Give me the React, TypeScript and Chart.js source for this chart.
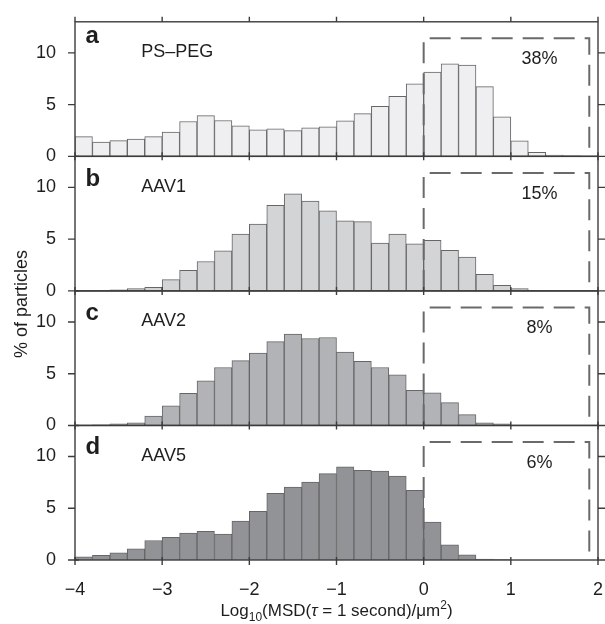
import React, { useEffect, useRef } from "react";
import { Chart, registerables } from "chart.js";

Chart.register(...registerables);

// ---- data ----
const binStart = -4;
const binWidth = 0.2;
const xTicks = [-4, -3, -2, -1, 0, 1, 2];
const yTicks = [0, 5, 10];
const panelLetters = ["a", "b", "c", "d"];
const sampleNames = ["PS\u2013PEG", "AAV1", "AAV2", "AAV5"];
const fastFractions = ["38%", "15%", "8%", "6%"];

const psPeg = [1.9, 1.37, 1.52, 1.68, 1.9, 2.35, 3.37, 3.94, 3.46, 2.95, 2.57, 2.67, 2.48, 2.75, 2.86, 3.43, 4.13, 4.83, 5.8, 7.0, 8.13, 8.95, 8.83, 6.73, 3.81, 1.49, 0.38, 0.13, 0.04, 0];
const aav1 = [0.02, 0.05, 0.1, 0.22, 0.35, 1.09, 1.98, 2.84, 3.87, 5.5, 6.45, 8.27, 9.39, 8.68, 7.73, 6.77, 6.69, 4.63, 5.5, 4.54, 4.89, 3.93, 3.26, 1.6, 0.54, 0.22, 0.02, 0, 0, 0];
const aav2 = [0.03, 0.06, 0.15, 0.25, 0.9, 1.9, 3.1, 4.3, 5.6, 6.27, 7.0, 8.1, 8.83, 8.4, 8.5, 7.1, 6.2, 5.6, 4.9, 3.4, 3.15, 2.2, 1.04, 0.26, 0.16, 0.02, 0, 0, 0, 0];
const aav5 = [0.3, 0.45, 0.7, 1.07, 1.88, 2.2, 2.6, 2.76, 2.5, 3.77, 4.7, 6.43, 7.05, 7.53, 8.34, 9.0, 8.67, 8.6, 8.1, 6.72, 3.67, 1.46, 0.49, 0.1, 0.04, 0, 0, 0, 0, 0];
const seriesList = [psPeg, aav1, aav2, aav5];

// dashed "fast particle" region (x from 0 to boxRight, y up to boxTop)
const boxLeft = 0;
const boxRight = 1.9;
const boxTop = 11.4;

// ---- style ----
const FONT = '"Liberation Sans", Arial, Helvetica, sans-serif';
const barFills = ["#efeff1", "#d3d4d6", "#b2b3b6", "#929396"];
const barStroke = "#666666";
const frameColor = "#3c3c3c";
const textColor = "#1e1e1e";
const letterY = [11.0, 10.1, 10.15, 10.2];
const nameX = -3.24;
const nameY = 9.6;
const letterX = -3.88;
const pctX = 1.33;
const pctY = 8.9;

const axisIds = ["y0", "y1", "y2", "y3"];

const fmtTick = (v: number) => (v < 0 ? "\u2212" + Math.abs(v) : String(v));

const framePlugin = {
  id: "panelFrame",
  afterDatasetsDraw(chart: any) {
    const ctx = chart.ctx as CanvasRenderingContext2D;
    const xs = chart.scales.x;
    const L = xs.left;
    const R = xs.right;
    axisIds.forEach((id, k) => {
      const ys = chart.scales[id];
      const T = ys.top;
      const B = ys.bottom;
      // dashed box
      ctx.save();
      ctx.strokeStyle = "#6a6a6a";
      ctx.lineWidth = 2;
      ctx.setLineDash([21, 10]);
      ctx.beginPath();
      ctx.moveTo(xs.getPixelForValue(boxLeft), ys.getPixelForValue(0));
      ctx.lineTo(xs.getPixelForValue(boxLeft), ys.getPixelForValue(boxTop));
      ctx.lineTo(xs.getPixelForValue(boxRight), ys.getPixelForValue(boxTop));
      ctx.lineTo(xs.getPixelForValue(boxRight), ys.getPixelForValue(0));
      ctx.stroke();
      ctx.restore();

      // frame
      ctx.save();
      ctx.strokeStyle = frameColor;
      ctx.lineWidth = 1.4;
      ctx.strokeRect(L, T, R - L, B - T);
      ctx.beginPath();
      yTicks.forEach((v) => {
        const py = ys.getPixelForValue(v);
        ctx.moveTo(L - 7, py);
        ctx.lineTo(L + (v === 0 ? 4 : 0), py);
        ctx.moveTo(R, py);
        ctx.lineTo(R + 7, py);
      });
      xTicks.forEach((v) => {
        const px = xs.getPixelForValue(v);
        if (k === 0) {
          ctx.moveTo(px, T - 5);
          ctx.lineTo(px, T);
        }
        if (k === axisIds.length - 1) {
          ctx.moveTo(px, B - 3);
          ctx.lineTo(px, B + 5);
        } else {
          ctx.moveTo(px, B - 4);
          ctx.lineTo(px, B + 4);
        }
      });
      ctx.stroke();
      ctx.restore();

      // texts
      ctx.save();
      ctx.fillStyle = textColor;
      ctx.textBaseline = "alphabetic";
      ctx.textAlign = "left";
      ctx.font = `bold 24px ${FONT}`;
      ctx.fillText(panelLetters[k], xs.getPixelForValue(letterX), ys.getPixelForValue(letterY[k]));
      ctx.font = `18px ${FONT}`;
      ctx.fillText(sampleNames[k], xs.getPixelForValue(nameX), ys.getPixelForValue(nameY));
      ctx.textAlign = "center";
      ctx.fillText(fastFractions[k], xs.getPixelForValue(pctX), ys.getPixelForValue(pctY));
      ctx.restore();
    });
  },
  afterDraw(chart: any) {
    const ctx = chart.ctx as CanvasRenderingContext2D;
    const xs = chart.scales.x;
    ctx.save();
    ctx.fillStyle = textColor;
    ctx.save();
    ctx.translate(22, 304);
    ctx.rotate(-Math.PI / 2);
    ctx.font = `18px ${FONT}`;
    ctx.textAlign = "center";
    ctx.textBaseline = "middle";
    ctx.fillText("% of particles", 0, 0);
    ctx.restore();

    const parts: { t: string; font: string; dy: number }[] = [
      { t: "Log", font: `17px ${FONT}`, dy: 0 },
      { t: "10", font: `12px ${FONT}`, dy: 5 },
      { t: "(MSD(", font: `17px ${FONT}`, dy: 0 },
      { t: "\u03C4", font: `italic 17px ${FONT}`, dy: 0 },
      { t: " = 1 second)/\u03BCm", font: `17px ${FONT}`, dy: 0 },
      { t: "2", font: `12px ${FONT}`, dy: -7 },
      { t: ")", font: `17px ${FONT}`, dy: 0 },
    ];
    let total = 0;
    parts.forEach((p) => {
      ctx.font = p.font;
      total += ctx.measureText(p.t).width;
    });
    const cx = (xs.left + xs.right) / 2;
    let x = cx - total / 2;
    const baseY = 616;
    ctx.textAlign = "left";
    ctx.textBaseline = "alphabetic";
    parts.forEach((p) => {
      ctx.font = p.font;
      ctx.fillText(p.t, x, baseY + p.dy);
      x += ctx.measureText(p.t).width;
    });
    ctx.restore();
  },
};

export default function App() {
  const canvasRef = useRef<HTMLCanvasElement | null>(null);

  useEffect(() => {
    if (!canvasRef.current) return;
    const datasets = seriesList.map((vals, k) => ({
      label: sampleNames[k],
      data: vals.map((v, i) => ({ x: binStart + binWidth * i + binWidth / 2, y: v })),
      yAxisID: axisIds[k],
      backgroundColor: barFills[k],
      borderColor: barStroke,
      borderWidth: 1,
      barPercentage: 1,
      categoryPercentage: 1,
      grouped: false,
    }));

    const yScale = (k: number) => ({
      type: "linear" as const,
      position: "left" as const,
      stack: "panels",
      stackWeight: 1,
      weight: 10 - k,
      min: 0,
      max: 13,
      grid: { display: false },
      border: { display: false },
      ticks: {
        font: { family: FONT, size: 18 },
        color: textColor,
        padding: 11,
      },
      afterBuildTicks: (s: any) => {
        s.ticks = yTicks.map((v) => ({ value: v }));
      },
      afterFit: (s: any) => {
        s.width = 75;
      },
    });

    const chart = new Chart(canvasRef.current, {
      type: "bar",
      data: { datasets: datasets as any },
      options: {
        animation: false,
        responsive: true,
        maintainAspectRatio: false,
        layout: { padding: { top: 17, right: 7, left: 0, bottom: 0 } },
        plugins: { legend: { display: false }, tooltip: { enabled: false } },
        scales: {
          x: {
            type: "linear",
            min: -4,
            max: 2,
            offset: false,
            grid: { display: false },
            border: { display: false },
            ticks: {
              font: { family: FONT, size: 18 },
              color: textColor,
              padding: 11,
              maxRotation: 0,
              autoSkip: false,
              callback: (v: any) => fmtTick(Number(v)),
            },
            afterBuildTicks: (s: any) => {
              s.ticks = xTicks.map((v) => ({ value: v }));
            },
            afterFit: (s: any) => {
              s.height = 64;
              s.paddingRight = 0;
            },
          },
          y0: yScale(0),
          y1: yScale(1),
          y2: yScale(2),
          y3: yScale(3),
        } as any,
      },
      plugins: [framePlugin],
    });
    return () => chart.destroy();
  }, []);

  return (
    <div style={{ position: "absolute", left: 0, top: 0, width: 605, height: 624, background: "#fff" }}>
      <canvas ref={canvasRef} />
    </div>
  );
}
